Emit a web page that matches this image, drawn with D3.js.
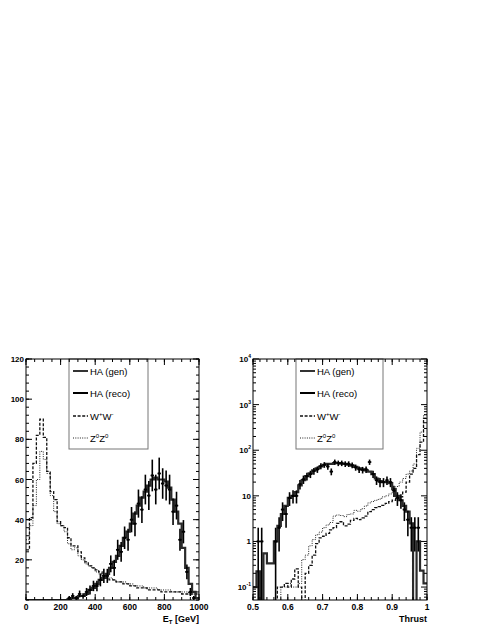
<!DOCTYPE html>
<html><head><meta charset="utf-8">
<script src="https://cdn.jsdelivr.net/npm/d3@7/dist/d3.min.js"></script>
<style>
body{margin:0;background:#fff}
svg{display:block}
text{font-family:"Liberation Sans",Arial,Helvetica,sans-serif;fill:#000}
</style>
</head><body>
<svg id="chart" width="490" height="634"></svg>
<script>
// ---------------- DATA: left panel (E_T, 20 GeV bins from 0 to 1000) ----------------
const etStart = 0, etWidth = 20;
const etGen = [0,0,0,0,0,0,0,0,0,0,0,0,0.5,1,1,2,2,3,5,6,8,10,11,13,16,19,22,27,31,34,38,43,47,51,54,57,60,61,60,60,59,56,50,44,38,26,16,8,4,1];
const etReco = [null,null,null,null,null,null,null,null,null,null,null,null,1,2,1,3,2,4,5,7,7,10,12,12,18,16,25,24,31,30,40,38,48,45,55,52,62,55,63,58,57,55,44,47,30,34,14,4,1,null];
const etRecoErr = [null,null,null,null,null,null,null,null,null,null,null,null,1,1.4,1,1.7,1.4,2,2.2,2.6,2.6,3.2,3.5,3.5,4.2,4,5,4.9,5.6,5.5,6.3,6.2,7,6.7,7.4,7.2,7.9,7.4,7.9,7.6,7.5,7.4,6.6,6.9,5.5,5.8,3.7,2,1,null];
const etWW = [25,41,68,82,90,81,64,54,50,39,37,36,31,27,27,24,21,19,17,16,15,14,12,11,10,10,9,9,8,8,7,7,6,6,6,5,5,5,5,4,4,4,4,4,4,3,3,3,3,3];
const etZZ = [30,37,47,60,74,70,63,52,44,38,37,34,28,25,26,22,20,18,17,16,14,13,12,11,11,10,9,9,9,8,8,7,7,7,6,6,6,6,5,5,5,5,4,4,4,4,4,3,3,3];
const etTicks = [0,200,400,600,800,1000];
const etTickLabels = ["0","200","400","600","800","1000"];
const etYTicks = [20,40,60,80,100,120];
const etYTickLabels = ["20","40","60","80","100","120"];

// ---------------- DATA: right panel (Thrust, 0.01 bins from 0.5 to 1) ----------------
const thStart = 0.5, thWidth = 0.01;
const thGen = [0.1,0.22,0,0.55,0.33,0.33,1.0,2.2,4,6,9,10,12,17,22,27,31,36,40,44,48,50,50,52,52,51,50,48,46,43,40,38,36,34,30,24,21,20,20,19,14,10,8,6,4.5,2.5,0,1.0,0.23,0.12];
const thReco = [null,1,1,null,null,null,1,2,5,4,9,10,10,18,23,27,30,35,38,45,48,44,34,55,52,52,50,50,47,42,38,37,38,55,30,22,20,20,22,20,13,9,8,5,3,2,2,2,null,null];
const thRecoErr = [null,1,1,null,null,null,1,1.4,2.2,2,3,3.2,3.2,4.2,4.8,5.2,5.5,5.9,6.2,6.7,6.9,6.6,5.8,7.4,7.2,7.2,7.1,7.1,6.9,6.5,6.2,6.1,6.2,7.4,5.5,4.7,4.5,4.5,4.7,4.5,3.6,3,2.8,2.2,1.7,1.4,1.4,1.4,null,null];
const thWW = [0,0,0,0,0,0,0,0.1,0.1,0.12,0.1,0.15,0.25,0.1,0,0.2,0.3,0.5,0.9,1.2,1.3,1.5,1.8,2.0,2.5,2.7,2.2,2.4,2.9,3.2,3.0,3.3,3.6,4.5,5.0,5.5,5.8,6.2,6.8,7.5,8.0,8.8,9.5,12,20,30,40,80,150,500];
const thZZ = [0,0,0,0,0,0,0,0,0.1,0.1,0.12,0.1,0.1,0.12,0.4,0.5,0.8,1.1,1.4,1.6,2.0,2.3,2.6,3.6,3.8,3.7,3.5,3.9,4.0,4.8,4.6,5.2,6.0,7.0,7.5,8.0,8.5,9.5,10,11,13,16,20,24,30,35,50,110,250,600];
const thTicks = [0.5,0.6,0.7,0.8,0.9,1.0];
const thTickLabels = ["0.5","0.6","0.7","0.8","0.9","1"];
const thYTicks = [0.1,1,10,100,1000,10000];
const thYTickLabels = [["10","-1"],["1",null],["10",null],["10","2"],["10","3"],["10","4"]];

const legendNames = ["HA (gen)","HA (reco)","W+W-","Z0Z0"];

// ---------------- DRAWING ----------------
const svg = d3.select("#chart");
svg.append("rect").attr("width",490).attr("height",634).attr("fill","#fff");

function drawPanel(o){
  const g = svg.append("g");
  const x = o.x, y = o.y;
  const [x0,x1] = x.range(), [yb,yt] = y.range();
  const clipId = "clip"+o.id;
  svg.append("defs").append("clipPath").attr("id",clipId)
    .append("rect").attr("x",x0).attr("y",yt).attr("width",x1-x0).attr("height",yb-yt);
  const plot = g.append("g").attr("clip-path","url(#"+clipId+")");
  const yMin = o.yFloor;

  function step(vals){
    const pts=[];
    vals.forEach((v,i)=>{
      const yy = y(Math.max(v,yMin));
      pts.push([x(o.start+i*o.width),yy],[x(o.start+(i+1)*o.width),yy]);
    });
    return d3.line()(pts);
  }
  plot.append("path").attr("d",step(o.zz)).attr("fill","none").attr("stroke","#222")
    .attr("stroke-width",1).attr("stroke-dasharray","1,1.3");
  plot.append("path").attr("d",step(o.ww)).attr("fill","none").attr("stroke","#111")
    .attr("stroke-width",1.3).attr("stroke-dasharray","3,1.6");
  plot.append("path").attr("d",step(o.gen)).attr("fill","none").attr("stroke","#2a2a2a")
    .attr("stroke-width",2.2);
  const pg = plot.append("g").attr("stroke","#000").attr("stroke-width",1.6);
  o.reco.forEach((v,i)=>{
    if(v==null) return;
    const e = o.err[i];
    const xl = x(o.start+i*o.width), xr = x(o.start+(i+1)*o.width), xc=(xl+xr)/2;
    pg.append("line").attr("x1",xc).attr("x2",xc)
      .attr("y1",y(Math.max(v-e,yMin))).attr("y2",y(v+e));
    pg.append("line").attr("x1",xl).attr("x2",xr).attr("y1",y(v)).attr("y2",y(v));
    pg.append("rect").attr("x",xc-1).attr("y",y(v)-1).attr("width",2).attr("height",2)
      .attr("fill","#000").attr("stroke","none");
  });

  // legend box
  const lg = g.append("g");
  lg.append("rect").attr("x",o.leg[0]).attr("y",yt).attr("width",o.leg[1]-o.leg[0]).attr("height",o.leg[2]-yt)
    .attr("fill","#fff").attr("stroke","#777").attr("stroke-width",1);
  const entryY = [371,393,416,438];
  const styles = [
    {c:"#333",w:2,d:null},{c:"#000",w:2,d:null},{c:"#111",w:1.3,d:"3,1.6"},{c:"#222",w:1,d:"1,1.3"}];
  legendNames.forEach((n,i)=>{
    const s = styles[i];
    lg.append("line").attr("x1",o.leg[0]+4).attr("x2",o.leg[0]+19).attr("y1",entryY[i]).attr("y2",entryY[i])
      .attr("stroke",s.c).attr("stroke-width",s.w).attr("stroke-dasharray",s.d);
    const t = lg.append("text").attr("x",o.leg[0]+21).attr("y",entryY[i]+3.5).attr("font-size",9.5);
    if(i<2){ t.text(n); }
    else {
      t.append("tspan").text(n[0]);
      t.append("tspan").text(n[1]).attr("font-size",6).attr("dy",-4);
      t.append("tspan").text(n[2]).attr("font-size",9.5).attr("dy",4);
      t.append("tspan").text(n[3]).attr("font-size",6).attr("dy",-4);
    }
  });

  g.append("rect").attr("x",x0).attr("y",yt).attr("width",x1-x0).attr("height",yb-yt)
    .attr("fill","none").attr("stroke","#000").attr("stroke-width",1);

  const tk = g.append("g").attr("stroke","#000").attr("stroke-width",1);
  o.xMinor.forEach(v=>{
    const xx=x(v);
    tk.append("line").attr("x1",xx).attr("x2",xx).attr("y1",yb).attr("y2",yb-3);
    tk.append("line").attr("x1",xx).attr("x2",xx).attr("y1",yt).attr("y2",yt+3);
  });
  o.xTicks.forEach((v,i)=>{
    const xx=x(v);
    tk.append("line").attr("x1",xx).attr("x2",xx).attr("y1",yb).attr("y2",yb-6);
    tk.append("line").attr("x1",xx).attr("x2",xx).attr("y1",yt).attr("y2",yt+6);
    g.append("text").attr("x",xx).attr("y",yb+10).attr("text-anchor","middle")
      .attr("font-size",8.5).attr("font-weight","bold").text(o.xLabels[i]);
  });
  o.yMinor.forEach(v=>{
    const yy=y(v);
    tk.append("line").attr("x1",x0).attr("x2",x0+3).attr("y1",yy).attr("y2",yy);
    tk.append("line").attr("x1",x1).attr("x2",x1-3).attr("y1",yy).attr("y2",yy);
  });
  o.yTicks.forEach((v,i)=>{
    const yy=y(v);
    tk.append("line").attr("x1",x0).attr("x2",x0+6).attr("y1",yy).attr("y2",yy);
    tk.append("line").attr("x1",x1).attr("x2",x1-6).attr("y1",yy).attr("y2",yy);
    const lab = o.yLabels[i];
    const t = g.append("text").attr("x",x0-2).attr("y",yy+3).attr("text-anchor","end")
      .attr("font-size",8).attr("font-weight","bold");
    if(Array.isArray(lab)){
      t.append("tspan").text(lab[0]);
      if(lab[1]) t.append("tspan").text(lab[1]).attr("font-size",5).attr("dy",-4);
    } else t.text(lab);
  });
  const at = g.append("text").attr("x",x1).attr("y",yb+22).attr("text-anchor","end")
    .attr("font-size",9).attr("font-weight","bold");
  o.title(at);
}

const xL = d3.scaleLinear().domain([0,1000]).range([26,199]);
const yL = d3.scaleLinear().domain([0,120]).range([600,359]);
drawPanel({
  id:"L", x:xL, y:yL, yFloor:0, start:etStart, width:etWidth,
  gen:etGen, reco:etReco, err:etRecoErr, ww:etWW, zz:etZZ,
  leg:[69,148,449],
  xTicks:etTicks, xLabels:etTickLabels, xMinor:d3.range(0,1001,50),
  yTicks:etYTicks, yLabels:etYTickLabels, yMinor:d3.range(0,121,4),
  title:t=>{t.append("tspan").text("E");
    t.append("tspan").text("T").attr("font-size",6).attr("dy",2);
    t.append("tspan").text(" [GeV]").attr("dy",-2);}
});

const xR = d3.scaleLinear().domain([0.5,1]).range([253,427]);
const yR = d3.scaleLog().domain([0.052,10000]).range([600,359]);
const logMinor = [];
[0.01,0.1,1,10,100,1000].forEach(d=>{for(let k=2;k<=9;k++){const v=d*k; if(v>=0.052&&v<=10000) logMinor.push(v);}});
drawPanel({
  id:"R", x:xR, y:yR, yFloor:0.03, start:thStart, width:thWidth,
  gen:thGen, reco:thReco, err:thRecoErr, ww:thWW, zz:thZZ,
  leg:[296,383,449],
  xTicks:thTicks, xLabels:thTickLabels, xMinor:d3.range(0.5,1.0001,0.02),
  yTicks:thYTicks, yLabels:thYTickLabels, yMinor:logMinor,
  title:t=>{t.text("Thrust");}
});
</script>
</body></html>
